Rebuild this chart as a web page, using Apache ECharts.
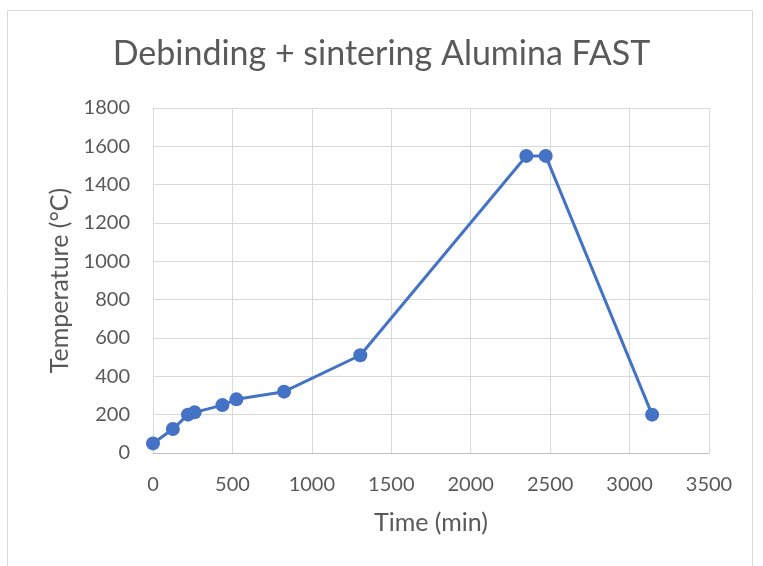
<!DOCTYPE html>
<html>
<head>
<meta charset="utf-8">
<script src="https://cdn.jsdelivr.net/npm/echarts@6/dist/echarts.min.js"></script>
<style>
  html, body { margin: 0; padding: 0; background: #fff; }
  #chart { width: 763px; height: 566px; }
</style>
</head>
<body>
<div id="chart"></div>
<script>
// Firing schedule: time (min) vs furnace temperature (°C)
const timeMin = [0, 125, 220, 262, 437, 525, 825, 1305, 2350, 2472, 3142];
const tempC = [50, 125, 200, 212, 250, 280, 320, 510, 1550, 1550, 200];

const titleText = 'Debinding + sintering Alumina FAST';
const xName = 'Time (min)';
const yName = 'Temperature (°C)';

const textColor = '#595959';
const gridColor = '#d9d9d9';
const lineColor = '#4472C4';
const fontFamily = 'Lato, "Open Sans", sans-serif';

const chart = echarts.init(document.getElementById('chart'), null, { renderer: 'canvas' });

chart.setOption({
  backgroundColor: '#fff',
  animation: false,
  title: {
    text: titleText,
    left: 'center',
    top: 32,
    textStyle: { color: textColor, fontSize: 34, fontWeight: 'normal', fontFamily: fontFamily }
  },
  graphic: [{
    type: 'rect',
    shape: { x: 7.5, y: 10.5, width: 745, height: 600 },
    style: { fill: 'none', stroke: gridColor, lineWidth: 1 },
    silent: true,
    z: -1
  }],
  grid: { left: 153, right: 54, top: 108, bottom: 113 },
  xAxis: {
    type: 'value',
    min: 0, max: 3500, interval: 500,
    name: xName,
    nameLocation: 'middle',
    nameGap: 57,
    nameTextStyle: { color: textColor, fontSize: 25, fontFamily: fontFamily },
    axisLine: { show: true, lineStyle: { color: '#bfbfbf', width: 1 } },
    axisTick: { show: false },
    axisLabel: { color: textColor, fontSize: 20, margin: 22, fontFamily: fontFamily, formatter: v => String(v) },
    splitLine: { show: true, lineStyle: { color: gridColor, width: 1 } }
  },
  yAxis: {
    type: 'value',
    min: 0, max: 1800, interval: 200,
    name: yName,
    nameLocation: 'middle',
    nameGap: 80,
    nameTextStyle: { color: textColor, fontSize: 25, fontFamily: fontFamily },
    axisLine: { show: false },
    axisTick: { show: false },
    axisLabel: { color: textColor, fontSize: 20, margin: 23, fontFamily: fontFamily, formatter: v => String(v) },
    splitLine: { show: true, lineStyle: { color: gridColor, width: 1 } }
  },
  series: [{
    type: 'line',
    data: timeMin.map((t, i) => [t, tempC[i]]),
    symbol: 'circle',
    symbolSize: 14,
    lineStyle: { color: lineColor, width: 3 },
    itemStyle: { color: lineColor },
    clip: false
  }]
});
</script>
</body>
</html>
